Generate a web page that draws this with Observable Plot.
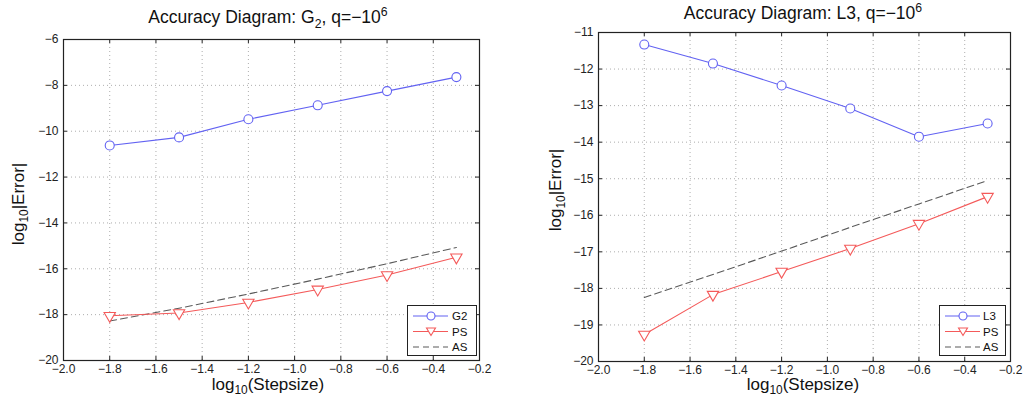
<!DOCTYPE html>
<html><head><meta charset="utf-8">
<script src="https://cdn.jsdelivr.net/npm/d3@7"></script>
<script src="https://cdn.jsdelivr.net/npm/@observablehq/plot@0.6"></script>
<style>
body{margin:0;background:#fff;font-family:"Liberation Sans",Arial,Helvetica,sans-serif;color:#111;}
#wrap{position:relative;width:1023px;height:401px;overflow:hidden;background:#fff;}
.panel{position:absolute;top:0;}
.lbl{position:absolute;white-space:nowrap;font-size:17px;line-height:1;transform:translateX(-50%);}
.ttl{font-size:17.5px;}
.ylbl{position:absolute;white-space:nowrap;font-size:17px;line-height:1;transform:translate(-50%,-50%) rotate(-90deg);}
sub,sup{font-size:70%;line-height:0;}
.legend{position:absolute;border:1px solid #222;background:#fff;box-sizing:border-box;}
.legend svg{display:block;}
</style>
</head><body>
<div id="wrap"></div>
<script>
// ---- data ----
const stepsize = [-1.8, -1.5, -1.2, -0.9, -0.6, -0.3];
const g2Error  = [-10.62, -10.27, -9.48, -8.87, -8.25, -7.64];
const g2PS     = [-18.05, -17.93, -17.47, -16.90, -16.27, -15.50];
const g2AS     = [-18.28, -17.72, -17.10, -16.45, -15.78, -15.07];
const l3Error  = [-11.33, -11.85, -12.45, -13.08, -13.85, -13.49];
const l3PS     = [-19.26, -18.17, -17.54, -16.91, -16.23, -15.49];
const l3AS     = [-18.25, -17.62, -16.98, -16.33, -15.69, -15.05];
const xTicks      = [-2, -1.8, -1.6, -1.4, -1.2, -1, -0.8, -0.6, -0.4, -0.2];
const leftYTicks  = [-20, -18, -16, -14, -12, -10, -8, -6];
const rightYTicks = [-20, -19, -18, -17, -16, -15, -14, -13, -12, -11];
const leftNames   = ["G2", "PS", "AS"];
const rightNames  = ["L3", "PS", "AS"];

const BLUE = "#6262f2", RED = "#f45a5a", GRAY = "#5a5a5a";
const wrap = document.getElementById("wrap");

function panel(o) {
  const rows = ys => stepsize.map((x, i) => ({x, y: ys[i]}));
  const innerW = o.w - o.ml - o.mr, innerH = o.h - o.mt - o.mb;
  const plot = Plot.plot({
    width: o.w, height: o.h,
    marginLeft: o.ml, marginRight: o.mr, marginTop: o.mt, marginBottom: o.mb,
    style: {fontFamily: "'Liberation Sans', Arial, sans-serif", fontSize: "12px", color: "#222", background: "transparent", overflow: "visible"},
    x: {domain: [xTicks[0], xTicks[xTicks.length - 1]]},
    y: {domain: [o.yTicks[0], o.yTicks[o.yTicks.length - 1]]},
    marks: [
      Plot.gridX(xTicks, {stroke: "#999", strokeOpacity: 0.8, strokeDasharray: "1,3"}),
      Plot.gridY(o.yTicks, {stroke: "#999", strokeOpacity: 0.8, strokeDasharray: "1,3"}),
      Plot.tickX(xTicks, {x: d => d, insetTop: innerH - 4, stroke: "#222"}),
      Plot.tickX(xTicks, {x: d => d, insetBottom: innerH - 4, stroke: "#222"}),
      Plot.tickY(o.yTicks, {y: d => d, insetRight: innerW - 4, stroke: "#222"}),
      Plot.tickY(o.yTicks, {y: d => d, insetLeft: innerW - 4, stroke: "#222"}),
      Plot.axisX(xTicks, {anchor: "bottom", tickSize: 0, tickPadding: 4, label: null}),
      Plot.axisY(o.yTicks, {anchor: "left", tickSize: 0, tickPadding: 5, label: null}),
      Plot.line(rows(o.as), {x: "x", y: "y", stroke: GRAY, strokeWidth: 1.1, strokeDasharray: "7,4"}),
      Plot.line(rows(o.ps), {x: "x", y: "y", stroke: RED, strokeWidth: 1.1}),
      Plot.dot(rows(o.ps), {x: "x", y: "y", symbol: "triangle", rotate: 180, r: 4.2, stroke: RED, strokeWidth: 1.1, fill: "white"}),
      Plot.line(rows(o.main), {x: "x", y: "y", stroke: BLUE, strokeWidth: 1.1}),
      Plot.dot(rows(o.main), {x: "x", y: "y", r: 4.5, stroke: BLUE, strokeWidth: 1.1, fill: "white"}),
      Plot.frame({stroke: "#222", strokeWidth: 1.2})
    ]
  });
  const div = document.createElement("div");
  div.className = "panel";
  div.style.left = o.left + "px";
  div.appendChild(plot);
  wrap.appendChild(div);

  const t = document.createElement("div");
  t.className = "lbl ttl"; t.innerHTML = o.title;
  t.style.left = o.titleX + "px"; t.style.top = o.titleY + "px";
  wrap.appendChild(t);

  const xl = document.createElement("div");
  xl.className = "lbl"; xl.innerHTML = "log<sub>10</sub>(Stepsize)";
  xl.style.left = o.xlX + "px"; xl.style.top = o.xlY + "px";
  wrap.appendChild(xl);

  const yl = document.createElement("div");
  yl.className = "ylbl"; yl.innerHTML = "log<sub>10</sub>|Error|";
  yl.style.left = o.ylX + "px"; yl.style.top = o.ylY + "px";
  wrap.appendChild(yl);

  // legend
  const lg = document.createElement("div");
  lg.className = "legend";
  lg.style.left = o.lg.x + "px"; lg.style.top = o.lg.y + "px";
  lg.style.width = o.lg.w + "px"; lg.style.height = o.lg.h + "px";
  const styles = [
    {stroke: BLUE, dash: null, marker: "circle"},
    {stroke: RED, dash: null, marker: "tri"},
    {stroke: GRAY, dash: "6,4", marker: null}
  ];
  let s = `<svg width="${o.lg.w - 2}" height="${o.lg.h - 2}" style="font-family:'Liberation Sans',Arial,sans-serif;font-size:11.5px">`;
  o.names.forEach((n, i) => {
    const y = 10 + i * 15.5;
    const st = styles[i];
    s += `<line x1="5" x2="40" y1="${y}" y2="${y}" stroke="${st.stroke}" stroke-width="1.1" ${st.dash ? `stroke-dasharray="${st.dash}"` : ""}/>`;
    if (st.marker === "circle") s += `<circle cx="23" cy="${y}" r="4" fill="white" stroke="${st.stroke}" stroke-width="1.1"/>`;
    if (st.marker === "tri") s += `<path d="M18.5,${y - 3.5}L27.5,${y - 3.5}L23,${y + 4}Z" fill="white" stroke="${st.stroke}" stroke-width="1.1"/>`;
    s += `<text x="${o.lg.textX}" y="${y + 4}" fill="#111">${n}</text>`;
  });
  s += "</svg>";
  lg.innerHTML = s;
  wrap.appendChild(lg);
}

panel({left: 0, w: 512, h: 401, ml: 63, mr: 33, mt: 39, mb: 41,
  yTicks: leftYTicks, main: g2Error, ps: g2PS, as: g2AS,
  title: "Accuracy Diagram: G<sub>2</sub>, q=\u221210<sup>6</sup>", titleX: 268, titleY: 9,
  xlX: 268, xlY: 376, ylX: 18, ylY: 204,
  names: leftNames, lg: {x: 407, y: 305, w: 70, h: 51, textX: 44}});

panel({left: 512, w: 511, h: 401, ml: 86, mr: 13, mt: 32, mb: 40,
  yTicks: rightYTicks, main: l3Error, ps: l3PS, as: l3AS,
  title: "Accuracy Diagram: L3, q=\u221210<sup>6</sup>", titleX: 803, titleY: 5,
  xlX: 803, xlY: 376, ylX: 555, ylY: 190,
  names: rightNames, lg: {x: 939, y: 305, w: 67, h: 51, textX: 43}});
</script>
</body></html>
